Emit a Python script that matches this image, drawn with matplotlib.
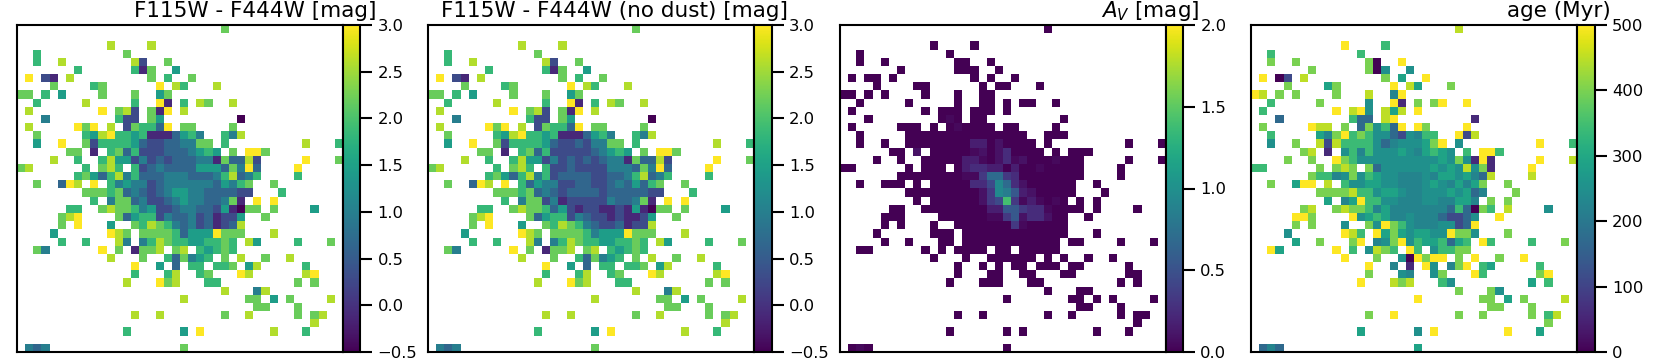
import numpy as np
from matplotlib import pyplot as plt

# each row of the map: "first_column:hex_levels" runs, empty cells are left out
color_rows = [
    "25:7", "", "11:8 16:8", "2:6 13:7",
    "2:6 5:8 14:8 15:2 18:7",
    "7:6 14:6 15:1 16:7 19:5",
    "1:9 3:2 4:1 6:8 16:7 18:6 21:7",
    "4:7 9:6 10:7 17:9 19:8 20:6 24:8",
    "0:77 3:6 5:5 10:7 14:7 17:57",
    "2:6 8:8 14:6 17:91 20:6 22:87 26:8",
    "1:8 10:9 12:782 16:719 20:8",
    "3:4 12:622 16:75 27:0",
    "1:8 7:979 11:8 13:276639 20:77 26:7",
    "2:7 8:658966561113564 25:648",
    "2:5 5:9 8:7266665322334477 25:6 35:8 39:6",
    "6:77 9:1 11:67362223334565 26:7 28:997",
    "4:8 7:6 10:68552423233344173382 35:9 39:7",
    "0:78 8:6 10:786 14:6234333355537493 34:9",
    "7:67536846333444333468346 34:6",
    "2:7 5:398 9:9 11:645442344444435467 31:7",
    "8:777673432345544333322 32:6",
    "9:6 11:47734223454433471 29:9 31:9",
    "6:66 10:78776452234433251077 31:7 36:5",
    "5:789 12:7356624334231225 30:7",
    "5:7 7:9 11:5 14:76876434231238",
    "4:5 11:987 15:7777635559777 31:8",
    "5:6 8:6 12:84 15:468766556676 28:85 34:6 38:7",
    "2:74 10:9 12:7 14:1778 19:78 22:65676",
    "11:8 15:7 18:637456 25:7 27:8 30:7 33:8",
    "14:9 17:5 19:3 21:66 24:667 28:58 35:6",
    "14:6 18:68 22:67 27:98 35:89",
    "13:8 17:978 23:66 34:7 36:7",
    "25:8 29:48",
    "20:8 28:77 31:5 33:7 38:8",
    "29:77 34:7",
    "14:8 17:8 25:7 28:8 34:7 36:78",
    "36:8",
    "13:6 20:5 22:9 31:8 35:6",
    "",
    "1:434 20:7",
]

nodust_rows = [
    "25:7", "", "11:8 16:8", "2:6 13:7",
    "2:6 5:8 14:8 15:2 18:7",
    "7:6 14:6 15:1 16:7 19:5",
    "1:9 3:2 4:1 6:8 16:7 18:6 21:7",
    "4:7 9:6 10:7 17:9 19:8 20:6 24:8",
    "0:77 3:6 5:5 10:7 14:7 17:57",
    "2:6 8:8 14:6 17:91 20:6 22:87 26:8",
    "1:8 10:9 12:782 16:719 20:8",
    "3:4 12:622 16:75 27:0",
    "1:8 7:979 11:8 13:276639 20:77 26:7",
    "2:7 8:658966561113564 25:648",
    "2:5 5:9 8:7266665322324477 25:6 35:8 39:6",
    "6:77 9:1 11:67362222234565 26:7 28:997",
    "4:8 7:6 10:68552423232344173382 35:9 39:7",
    "0:78 8:6 10:786 14:6223222244437493 34:9",
    "7:67536846233332233468346 34:6",
    "2:7 5:398 9:9 11:635442233223435367 31:7",
    "8:777673432333323333322 32:6",
    "9:6 11:47724122222433471 29:9 31:9",
    "6:66 10:78776352122112151077 31:7 36:5",
    "5:789 12:7356624322121125 30:7",
    "5:7 7:9 11:5 14:76876432231228",
    "4:5 11:987 15:7777645559777 31:8",
    "5:6 8:6 12:84 15:468766556676 28:85 34:6 38:7",
    "2:74 10:9 12:7 14:1778 19:78 22:65676",
    "11:8 15:7 18:637456 25:7 27:8 30:7 33:8",
    "14:9 17:5 19:3 21:66 24:667 28:58 35:6",
    "14:6 18:68 22:67 27:98 35:89",
    "13:8 17:978 23:66 34:7 36:7",
    "25:8 29:48",
    "20:8 28:77 31:5 33:7 38:8",
    "29:77 34:7",
    "14:8 17:8 25:7 28:8 34:7 36:78",
    "36:8",
    "13:6 20:5 22:9 31:8 35:6",
    "",
    "1:434 20:7",
]

age_rows = [
    "25:9", "", "11:a 16:7", "2:7 13:7",
    "2:8 5:8 14:8 15:0 18:a",
    "7:8 14:8 15:0 16:5 19:5",
    "1:a 3:0 4:2 6:9 16:8 18:6 21:a",
    "4:8 9:6 10:8 17:a 19:9 20:6 24:8",
    "0:a9 3:8 5:8 10:8 14:9 17:4a",
    "2:7 8:8 14:5 17:a1 20:8 22:8a 26:a",
    "1:7 10:a 12:9a5 16:969 20:a",
    "3:3 12:733 16:9a 27:1",
    "1:8 7:a99 11:8 13:38573a 20:a8 26:a",
    "2:7 8:648a78755325477 25:a29",
    "2:5 5:8 8:929777753455568a 25:5 35:a 39:7",
    "6:89 9:1 11:57475556546765 26:7 28:aa7",
    "4:8 7:8 10:a87555555555565851a1 35:a 39:9",
    "0:77 8:8 10:898 14:8355555565659581 34:a",
    "7:87745857655444546656439 34:9",
    "2:8 5:6aa 9:9 11:755665544456546468 31:8",
    "8:888897756654455565634 32:8",
    "9:6 11:46a77554445544664 29:8 31:8",
    "6:89 10:89887464444444373087 31:9 36:5",
    "5:aa8 12:a567644544432235 30:a",
    "5:8 7:8 11:5 14:85a8754445523a",
    "4:5 11:a97 15:a68656655a885 31:8",
    "5:6 8:8 12:8a 15:458a57667367 28:a7 34:7 38:8",
    "2:a6 10:a 12:7 14:5987 19:a7 22:57788",
    "11:a 15:8 18:50a8aa 25:8 27:a 30:8 33:a",
    "14:a 17:4 19:1 21:a5 24:48a 28:76 35:7",
    "14:8 18:54 22:58 27:a7 35:8a",
    "13:a 17:989 23:75 34:6 36:7",
    "25:8 29:85",
    "20:a 28:88 31:6 33:8 38:9",
    "29:88 34:8",
    "14:8 17:a 25:8 28:8 34:8 36:79",
    "36:8",
    "13:6 20:5 22:a 31:a 35:6",
    "",
    "1:343 20:6",
]

# AV is zero on every filled cell except these
av_rows = {
    11: "13:1", 12: "14:1", 14: "16:33 19:2", 15: "9:2 16:12 19:24",
    16: "15:33 17:1 19:241 22:2 26:1", 17: "15:344 18:33 21:3 24:1",
    18: "15:11 17:5885 21:4", 19: "16:446a842", 20: "17:25a9732",
    21: "17:256c5131 26:1", 22: "18:33775441", 23: "18:11572442",
    24: "21:51", 39: "2:1",
}

color_levels = [-0.5, -0.1, 0.3, 0.65, 1.0, 1.45, 1.85, 2.2, 2.6, 3.0]
age_levels = [0, 60, 110, 170, 225, 250, 290, 340, 400, 450, 500]
av_levels = [0.0, 0.05, 0.1, 0.17, 0.25, 0.33, 0.45, 0.55, 0.7, 0.85, 0.95, 1.05, 1.4]

titles = ["F115W - F444W [mag]", "F115W - F444W (no dust) [mag]", "$A_V$ [mag]", "age (Myr)"]
limits = [(-0.5, 3.0), (-0.5, 3.0), (0.0, 2.0), (0, 500)]
ticks = [
    [-0.5, 0.0, 0.5, 1.0, 1.5, 2.0, 2.5, 3.0],
    [-0.5, 0.0, 0.5, 1.0, 1.5, 2.0, 2.5, 3.0],
    [0.0, 0.5, 1.0, 1.5, 2.0],
    [0, 100, 200, 300, 400, 500],
]


def fill_map(img, row, runs, levels):
    for run in runs.split():
        col, digits = run.split(":")
        for i, d in enumerate(digits):
            img[row, int(col) + i] = levels[int(d, 16)]


def decode(rows, levels):
    img = np.full((40, 40), np.nan)
    for r, runs in enumerate(rows):
        fill_map(img, r, runs, levels)
    return img


color_map = decode(color_rows, color_levels)
nodust_map = decode(nodust_rows, color_levels)
age_map = decode(age_rows, age_levels)
av_map = np.where(np.isnan(color_map), np.nan, 0.0)
for r, runs in av_rows.items():
    fill_map(av_map, r, runs, av_levels)

W, H = 1661, 363
fig = plt.figure(figsize=(W / 100, H / 100), dpi=100)

lefts = [16.7, 428.3, 839.6, 1251.3]
for left, img, title, lim, tk in zip(lefts, [color_map, nodust_map, av_map, age_map], titles, limits, ticks):
    ax = fig.add_axes((left / W, 1 - 352 / H, 326 / W, 327 / H))
    im = ax.imshow(img, cmap="viridis", vmin=lim[0], vmax=lim[1], aspect="auto", interpolation="nearest")
    ax.set_xticks([])
    ax.set_yticks([])
    for spine in ax.spines.values():
        spine.set_linewidth(1.5)

    cax = fig.add_axes(((left + 326) / W, 1 - 352 / H, 17.4 / W, 327 / H))
    cbar = fig.colorbar(im, cax=cax)
    cbar.set_ticks(tk)
    cbar.ax.tick_params(length=8.5, width=1.5, labelsize=11.8, pad=4)
    cbar.outline.set_linewidth(1.5)

    fig.text((left + 359.5) / W, 1 - 17.3 / H, title, ha="right", va="baseline", fontsize=15.5)

fig.savefig("out.png", dpi=100)
